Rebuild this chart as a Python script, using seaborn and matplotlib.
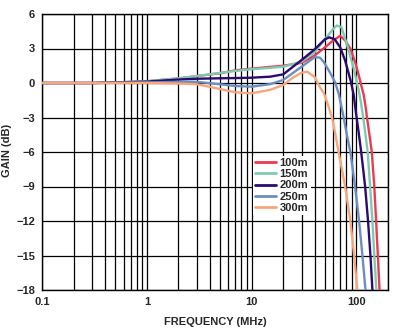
import matplotlib
matplotlib.use("Agg")
import matplotlib.pyplot as plt
import seaborn as sns
import pandas as pd
import numpy as np
from matplotlib.ticker import NullFormatter, LogLocator

# Data (frequency in MHz, gain in dB)
labels = ["100m", "150m", "200m", "250m", "300m"]
colors = ["#EE3A50", "#7DCAB2", "#2C0B6E", "#6C8DC0", "#F6A77B"]

freq_100 = [0.1, 0.3, 0.5, 1, 2, 3, 5, 7, 10, 15, 20, 30, 40, 50, 60, 70, 78, 88, 98, 105, 111, 117, 122, 126, 133, 140, 148, 154, 160, 166]
gain_100 = [0, 0.0, 0.05, 0.15, 0.4, 0.6, 0.85, 1.1, 1.25, 1.4, 1.5, 1.75, 2.4, 3.1, 3.7, 4.1, 3.7, 2.95, 1.7, 0.7, -0.2, -1.0, -2.0, -3.0, -4.5, -6, -9, -12, -15, -18]

freq_150 = [0.1, 0.3, 0.5, 1, 2, 3, 5, 7, 10, 15, 20, 30, 40, 50, 60, 65, 72, 82, 94, 100, 105, 110, 116, 122, 128, 135, 142, 148, 155]
gain_150 = [0, 0.0, 0.05, 0.15, 0.4, 0.6, 0.88, 1.05, 1.2, 1.32, 1.42, 1.85, 2.7, 3.8, 4.7, 5.0, 4.85, 3.2, 1.3, 0.2, -0.6, -1.6, -3, -4.5, -6, -9, -12, -15, -18]

freq_200 = [0.1, 0.3, 0.5, 1, 2, 3, 5, 7, 10, 15, 20, 30, 40, 50, 55, 62, 70, 78, 88, 94, 99, 105, 111, 121, 129, 136, 142]
gain_200 = [0, 0.0, 0.04, 0.12, 0.3, 0.37, 0.41, 0.43, 0.46, 0.55, 0.75, 2.0, 2.93, 3.8, 3.97, 3.8, 3.1, 1.95, 0.2, -1.0, -2.6, -4.3, -6, -9, -12, -15, -18]

freq_250 = [0.1, 0.3, 0.5, 1, 2, 3, 5, 7, 10, 15, 20, 30, 40, 45, 49, 56, 63, 68, 75.5, 81, 87.5, 97, 106, 114, 122]
gain_250 = [0, 0.0, 0.02, 0.05, 0.1, 0.1, -0.11, -0.26, -0.32, -0.1, 0.26, 1.42, 2.25, 2.2, 1.8, 0.9, 0.0, -1.0, -3, -4.5, -6, -9, -12, -15, -18]

freq_300 = [0.1, 0.3, 0.5, 1, 2, 3, 5, 7, 10, 15, 20, 25, 30, 34, 40, 45, 49, 53, 58.5, 63, 67.5, 78, 87.5, 95, 102]
gain_300 = [0, 0.0, 0.0, 0.0, -0.05, -0.11, -0.52, -0.81, -0.9, -0.6, -0.17, 0.5, 0.9, 0.98, 0.5, -0.4, -0.9, -1.8, -3, -4.5, -6, -9, -12, -15, -18]

x_ticks = [0.1, 1, 10, 100]
x_tick_labels = ["0.1", "1", "10", "100"]
y_ticks = [-18, -15, -12, -9, -6, -3, 0, 3, 6]

frames = []
for lab, f, g in zip(labels,
                     [freq_100, freq_150, freq_200, freq_250, freq_300],
                     [gain_100, gain_150, gain_200, gain_250, gain_300]):
    frames.append(pd.DataFrame({"freq": f, "gain": g, "cable": lab}))
df = pd.concat(frames, ignore_index=True)

sns.set_style("white")
plt.rcParams["font.family"] = ["Liberation Sans", "DejaVu Sans"]
plt.rcParams["font.weight"] = "bold"

fig = plt.figure(figsize=(3.95, 3.32), dpi=100)
ax = fig.add_axes([42 / 395, 1 - 290 / 332, 346 / 395, 276 / 332])

sns.lineplot(data=df, x="freq", y="gain", hue="cable", palette=colors,
             hue_order=labels, estimator=None, sort=False, linewidth=1.7,
             ax=ax, zorder=3)

ax.set_xscale("log")
ax.set_xlim(0.1, 200)
ax.set_ylim(-18, 6)
ax.set_xticks(x_ticks)
ax.set_xticklabels(x_tick_labels)
ax.xaxis.set_minor_locator(LogLocator(base=10, subs=np.arange(2, 10)))
ax.xaxis.set_minor_formatter(NullFormatter())
ax.set_yticks(y_ticks)
ax.grid(which="both", axis="x", color="black", linewidth=0.9)
ax.grid(which="major", axis="y", color="black", linewidth=0.9)
ax.set_axisbelow(True)
ax.tick_params(which="both", length=0, labelsize=8, pad=5)
for lbl in ax.get_xticklabels() + ax.get_yticklabels():
    lbl.set_fontweight("bold")
for s in ax.spines.values():
    s.set_color("black")
    s.set_linewidth(1.0)

ax.set_xlabel("FREQUENCY (MHz)", fontsize=8, fontweight="bold", labelpad=7)
ax.set_ylabel("GAIN (dB)", fontsize=8, fontweight="bold", va="center")
ax.yaxis.set_label_coords(-0.1, 0.505)

leg = ax.legend(loc="upper left", bbox_to_anchor=(0.61, 0.487), frameon=True,
                fontsize=8, handlelength=1.9, handletextpad=0.3,
                labelspacing=0.12, borderpad=0.2, borderaxespad=0)
leg.get_frame().set_facecolor("white")
leg.get_frame().set_edgecolor("none")
leg.get_frame().set_alpha(1)
for t in leg.get_texts():
    t.set_fontweight("bold")
for l in leg.get_lines():
    l.set_linewidth(2.0)

fig.savefig("out.png", dpi=100)
